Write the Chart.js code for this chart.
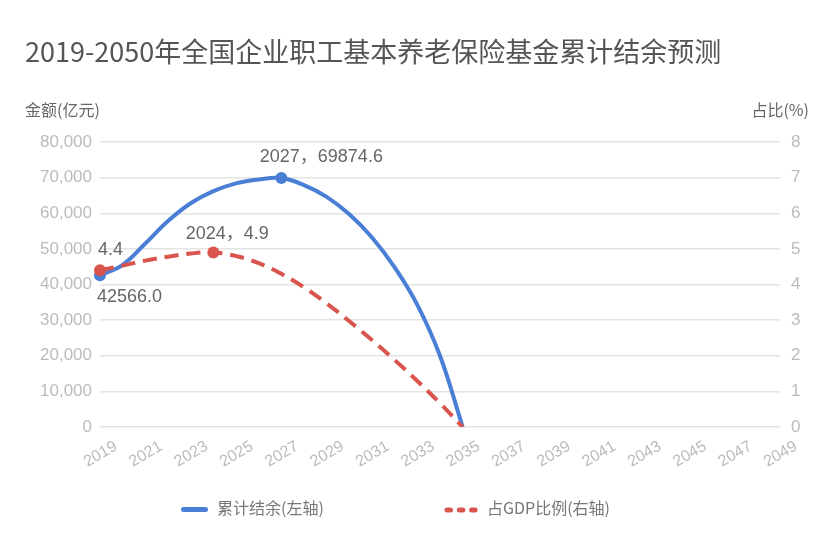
<!DOCTYPE html>
<html>
<head>
<meta charset="utf-8">
<script src="https://cdn.jsdelivr.net/npm/chart.js@4/dist/chart.umd.min.js"></script>
<style>
  body { margin: 0; background: #fff; font-family: 'Noto Sans CJK SC', 'Noto Sans', sans-serif; }
  #wrap { position: relative; width: 831px; height: 545px; }
  #title { position: absolute; left: 25px; top: 31px; font-size: 27px; line-height: 40px; color: #555; white-space: nowrap; }
  .unit { position: absolute; top: 97px; font-size: 16px; color: #666; white-space: nowrap; }
  .legend { position: absolute; top: 495px; height: 24px; font-size: 16px; color: #777; white-space: nowrap; line-height: 24px; }
</style>
</head>
<body>
<div id="wrap">
  <canvas id="myChart" width="831" height="545"></canvas>
  <div id="title">2019-2050年全国企业职工基本养老保险基金累计结余预测</div>
  <div class="unit" style="left:25px">金额(亿元)</div>
  <div class="unit" style="right:22px">占比(%)</div>
  <div class="legend" style="left:181px">
    <span style="display:inline-block;width:27px;height:5px;border-radius:3px;background:#4a7fd6;vertical-align:middle;margin-right:9px"></span>累计结余(左轴)
  </div>
  <div class="legend" style="left:444px">
    <svg width="38" height="8" style="vertical-align:middle;margin-right:5px"><line x1="3" y1="4" x2="36" y2="4" stroke="#d9544c" stroke-width="5" stroke-linecap="round" stroke-dasharray="3.5 8.8"/></svg>占GDP比例(右轴)
  </div>
</div>
<script>
// years on the x axis
const years = ['2019', '2020', '2021', '2022', '2023', '2024', '2025', '2026', '2027', '2028',
  '2029', '2030', '2031', '2032', '2033', '2034', '2035', '2036', '2037', '2038',
  '2039', '2040', '2041', '2042', '2043', '2044', '2045', '2046', '2047', '2048', '2049'];

// 累计结余 (亿元), left axis
const balance = [42566.0, 45500, 51500, 57800, 62800, 66200, 68400, 69500, 69874.6, 67900,
  64600, 59700, 53200, 44800, 34300, 20000, 0, null, null, null,
  null, null, null, null, null, null, null, null, null, null, null];

// 占GDP比例 (%), right axis
const gdpShare = [4.4, 4.53, 4.67, 4.78, 4.87, 4.9, 4.8, 4.6, 4.3, 3.92,
  3.47, 2.97, 2.44, 1.88, 1.29, 0.67, 0, null, null, null,
  null, null, null, null, null, null, null, null, null, null, null];

// points that get a marker and a label
const balanceMarks = [0, 8];
const shareMarks = [0, 5];

const blue = '#4a7fd6';
const red = '#d9544c';

Chart.defaults.font.family = "'Liberation Sans', 'Noto Sans CJK SC', sans-serif";

// little plugin to write the value labels next to the marked points
const pointLabels = {
  id: 'pointLabels',
  afterDatasetsDraw(chart) {
    const ctx = chart.ctx;
    const b = chart.getDatasetMeta(0).data;
    const r = chart.getDatasetMeta(1).data;
    ctx.save();
    ctx.font = "18px 'Liberation Sans', 'Noto Sans CJK SC', sans-serif";
    ctx.fillStyle = '#666';
    ctx.textBaseline = 'middle';

    ctx.textAlign = 'left';
    ctx.fillText(balance[0].toFixed(1), b[0].x - 3, b[0].y + 22);
    ctx.fillText(gdpShare[0].toFixed(1), r[0].x - 2, r[0].y - 20);

    ctx.textAlign = 'center';
    let i = balanceMarks[1];
    ctx.fillText(years[i] + '，' + balance[i].toFixed(1), b[i].x + 40, b[i].y - 21);
    i = shareMarks[1];
    ctx.fillText(years[i] + '，' + gdpShare[i].toFixed(1), r[i].x + 14, r[i].y - 18);
    ctx.restore();
  }
};

const ctx = document.getElementById('myChart').getContext('2d');
const chart = new Chart(ctx, {
  type: 'line',
  data: {
    labels: years,
    datasets: [
      {
        label: '累计结余(左轴)',
        data: balance,
        yAxisID: 'y',
        borderColor: blue,
        backgroundColor: blue,
        borderWidth: 4,
        pointRadius: c => balanceMarks.includes(c.dataIndex) ? 6 : 0,
        pointBorderWidth: 0,
        tension: 0.4,
        fill: false,
        order: 2
      },
      {
        label: '占GDP比例(右轴)',
        data: gdpShare,
        yAxisID: 'y1',
        borderColor: red,
        backgroundColor: red,
        borderWidth: 4,
        borderDash: [14, 8],
        pointRadius: c => shareMarks.includes(c.dataIndex) ? 6 : 0,
        pointBorderWidth: 0,
        tension: 0.4,
        fill: false,
        order: 1
      }
    ]
  },
  options: {
    responsive: false,
    animation: false,
    layout: { padding: { top: 142, bottom: 58, left: 0, right: 0 } },
    plugins: {
      legend: { display: false },
      tooltip: { enabled: false }
    },
    scales: {
      x: {
        offset: false,
        grid: { display: false },
        border: { display: false },
        ticks: {
          autoSkip: false,
          minRotation: 30,
          maxRotation: 30,
          labelOffset: 16,
          padding: 2,
          color: '#bbb',
          font: { size: 16 },
          callback: (v, i) => i % 2 === 0 ? years[i] : ''
        },
        afterFit: s => { s.height = 60; }
      },
      y: {
        position: 'left',
        min: 0,
        max: 80000,
        grid: { color: '#e4e4e4', lineWidth: 1.5, drawTicks: false },
        border: { display: false },
        ticks: {
          stepSize: 10000,
          padding: 8,
          color: '#bbb',
          font: { size: 17 },
          callback: v => v.toLocaleString('en-US')
        },
        afterFit: s => { s.width = 100; }
      },
      y1: {
        position: 'right',
        min: 0,
        max: 8,
        grid: { drawOnChartArea: false, drawTicks: false },
        border: { display: false },
        ticks: { stepSize: 1, padding: 11, color: '#bbb', font: { size: 17 } },
        afterFit: s => { s.width = 51; }
      }
    }
  },
  plugins: [pointLabels]
});
</script>
</body>
</html>
